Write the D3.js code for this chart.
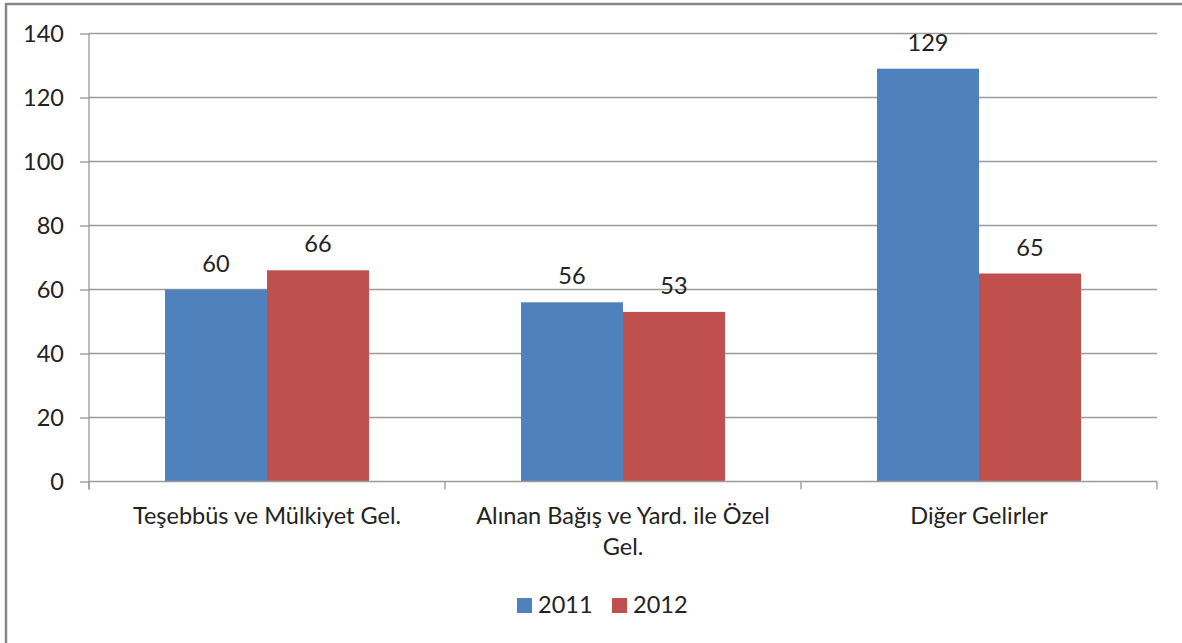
<!DOCTYPE html>
<html><head><meta charset="utf-8">
<script src="https://cdn.jsdelivr.net/npm/d3@7"></script>
<style>body{margin:0;background:#fff;}svg{display:block;}</style>
</head><body>
<script>
const categories = [["Teşebbüs ve Mülkiyet Gel."], ["Alınan Bağış ve Yard. ile Özel", "Gel."], ["Diğer Gelirler"]];
const seriesNames = ["2011", "2012"];
const values2011 = [60, 56, 129];
const values2012 = [66, 53, 65];
const yTicks = [0, 20, 40, 60, 80, 100, 120, 140];
const colors = ["#4F81BD", "#C0504D"];

const W = 1182, H = 643;
const font = "Lato, 'Open Sans', sans-serif";
const fs = 23.5;
const svg = d3.select("body").append("svg").attr("width", W).attr("height", H);
svg.append("rect").attr("x", 6).attr("y", 4).attr("width", W + 10).attr("height", H + 10)
  .attr("fill", "#fff").attr("stroke", "#868686").attr("stroke-width", 2.5);

const pLeft = 89, pRight = 1157, pTop = 33.5, pBottom = 481.5;
const y = d3.scaleLinear().domain([0, 140]).range([pBottom, pTop]);
const x0 = d3.scaleBand().domain(d3.range(categories.length)).range([pLeft, pRight])
  .paddingInner(0.427).paddingOuter(0.2135);
const x1 = d3.scaleBand().domain(seriesNames).range([0, x0.bandwidth()]);

// gridlines
svg.append("g").selectAll("line").data(yTicks.filter(d => d > 0)).join("line")
  .attr("x1", pLeft).attr("x2", pRight).attr("y1", d => y(d)).attr("y2", d => y(d))
  .attr("stroke", "#9a9a9a").attr("stroke-width", 1.3);

// y axis
const yAxis = svg.append("g").attr("transform", `translate(${pLeft},0)`)
  .call(d3.axisLeft(y).tickValues(yTicks).tickSize(9).tickPadding(16));
yAxis.select(".domain").attr("stroke", "#9a9a9a").attr("stroke-width", 1.3).attr("d", `M0,${pBottom + 8}V${pTop}`);
yAxis.selectAll(".tick line").attr("stroke", "#9a9a9a").attr("stroke-width", 1.3);
yAxis.selectAll(".tick text").attr("font-family", font).attr("font-size", fs).attr("fill", "#222").attr("dy", "0.34em");

// bars
const data = categories.map((c, i) => ({i, vals: [values2011[i], values2012[i]]}));
const g = svg.append("g").selectAll("g").data(data).join("g")
  .attr("transform", d => `translate(${x0(d.i)},0)`);
g.selectAll("rect").data(d => d.vals.map((v, k) => ({k, v}))).join("rect")
  .attr("x", d => x1(seriesNames[d.k])).attr("width", x1.bandwidth())
  .attr("y", d => y(d.v)).attr("height", d => y(0) - y(d.v))
  .attr("fill", d => colors[d.k]);
g.selectAll("text").data(d => d.vals.map((v, k) => ({k, v}))).join("text")
  .attr("x", d => x1(seriesNames[d.k]) + x1.bandwidth() / 2).attr("y", d => y(d.v) - 18)
  .attr("text-anchor", "middle").attr("font-family", font).attr("font-size", fs).attr("fill", "#222")
  .text(d => d.v);

// x axis
const xb = svg.append("g");
xb.append("line").attr("x1", pLeft).attr("x2", pRight).attr("y1", pBottom).attr("y2", pBottom)
  .attr("stroke", "#9a9a9a").attr("stroke-width", 1.3);
const tickXs = d3.range(categories.length + 1).map(i => pLeft + i * x0.step());
xb.selectAll("line.t").data(tickXs).join("line").attr("class", "t")
  .attr("x1", d => d).attr("x2", d => d).attr("y1", pBottom).attr("y2", pBottom + 8)
  .attr("stroke", "#9a9a9a").attr("stroke-width", 1.3);
xb.selectAll("text").data(data).join("text")
  .attr("x", d => x0(d.i) + x0.bandwidth() / 2).attr("y", 524)
  .attr("text-anchor", "middle").attr("font-family", font).attr("font-size", fs).attr("fill", "#222")
  .each(function(d) {
    const t = d3.select(this);
    categories[d.i].forEach((line, j) => {
      t.append("tspan").attr("x", x0(d.i) + x0.bandwidth() / 2).attr("dy", j === 0 ? 0 : 31).text(line);
    });
  });

// legend
const legendX = [517, 612];
const lg = svg.append("g").selectAll("g").data(seriesNames).join("g")
  .attr("transform", (d, i) => `translate(${legendX[i]},598)`);
lg.append("rect").attr("width", 15).attr("height", 15).attr("fill", (d, i) => colors[i]);
lg.append("text").attr("x", 21).attr("y", 15).attr("font-family", font).attr("font-size", fs)
  .attr("fill", "#222").text(d => d);
</script>
</body></html>
